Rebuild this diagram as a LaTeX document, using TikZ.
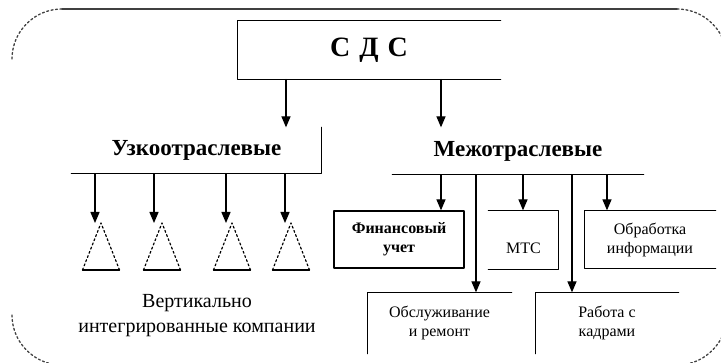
\documentclass[tikz,border=0pt]{standalone}
\usepackage{fontspec}
\setmainfont{Liberation Serif}
\usetikzlibrary{arrows.meta, calc}

\begin{document}
\begin{tikzpicture}[line cap=round,line join=round,>={Triangle[width=9pt,length=11pt]},x=1pt,y=-1pt, line width=1.3pt,
  frame/.style={color=black!75, line width=1.5pt},
  corner/.style={frame, line width=1.3pt, dash pattern=on 2pt off 2.5pt},
  tridash/.style={line width=1.2pt, dash pattern=on 2pt off 2.5pt},
  head/.style={inner sep=0pt, font=\fontsize{23}{26}\selectfont\bfseries},
  blk/.style={inner sep=0pt, align=center, font=\fontsize{16}{19}\selectfont}]
\useasboundingbox (0,0) rectangle (721,363);
\clip (0,0) rectangle (721,363);
% outer frame
\draw[frame] (62,9) -- (677,9);
\draw[corner] (12,59) arc[start angle=180,end angle=270,radius=50];
\draw[corner] (677,9) arc[start angle=270,end angle=360,radius=50];
\draw[corner] (12,315) arc[start angle=180,end angle=90,radius=50];
\draw[corner] (727,315) arc[start angle=0,end angle=90,radius=50];
% top
\node[head, minimum width=262pt, minimum height=58pt, font=\fontsize{28}{30}\selectfont\bfseries] (sds) at (369,50) {С\hspace{9pt}Д\hspace{9pt}С};
\draw (sds.north east) -- (sds.north west) -- (sds.south west) -- (sds.south east);
\node[head, minimum width=249pt, minimum height=45pt] (uzk) at (196.5,150.5) {Узкоотраслевые};
\draw (uzk.north east) -- (uzk.south east) -- (uzk.south west);
\node[head, minimum width=250pt, minimum height=46pt] (mezh) at (518,151) {Межотраслевые};
\draw (mezh.south west) -- (mezh.south east);
\coordinate (c1) at (286,0);
\coordinate (c2) at (441,0);
\draw[->] (sds.south -| c1) -- (uzk.north -| c1);
\draw[->] (sds.south -| c2) -- (mezh.north -| c2);
% vertically integrated
\foreach \a/\t in {95/101, 154/162, 226/232, 285/291}{
  \coordinate (tri\a) at (\t,223);
  \coordinate (top\a) at (\a,0);
  \draw[->] (uzk.south -| top\a) -- (top\a |- tri\a);
  \draw[tridash] ($(tri\a)+(-18.5,47)$) -- (tri\a) -- ($(tri\a)+(18.5,47)$);
  \draw ($(tri\a)+(-18.5,47)$) -- ($(tri\a)+(18.5,47)$);
}
\node[align=center, inner sep=0pt, font=\fontsize{20}{25}\selectfont] (vik) at (197,316) {Вертикально\\интегрированные компании};
% cross-industry
\node[blk, draw, minimum width=130pt, minimum height=57pt, font=\fontsize{16}{19}\selectfont\bfseries] (fin) at (399,239.5) {Финансовый\\учет};
\node[blk, minimum width=69pt, minimum height=58pt] (mts) at (523.5,240) {\raisebox{-13.5pt}[0pt][0pt]{МТС}};
\draw (mts.north west) -- (mts.north east) -- (mts.south east) -- (mts.south west);
\node[blk, minimum width=130pt, minimum height=57pt] (obr) at (650,239.5) {Обработка\\информации};
\draw (obr.north east) -- (obr.north west) -- (obr.south west) -- (obr.south east);
\node[blk, minimum width=143pt, minimum height=60pt] (obs) at (439.5,323) {Обслуживание\\и ремонт};
\draw (obs.north east) -- (obs.north west) -- (obs.south west);
\node[blk, minimum width=142pt, minimum height=60pt] (rab) at (607,323) {Работа с\\кадрами};
\draw (rab.north east) -- (rab.north west) -- (rab.south west);
\coordinate (d1) at (476,0);
\coordinate (d2) at (523,0);
\coordinate (d3) at (572,0);
\coordinate (d4) at (607,0);
\draw[->] (mezh.south -| c2) -- (fin.north -| c2);
\draw[->] (mezh.south -| d1) -- (obs.north -| d1);
\draw[->] (mezh.south -| d2) -- (mts.north -| d2);
\draw[->] (mezh.south -| d3) -- (rab.north -| d3);
\draw[->] (mezh.south -| d4) -- (obr.north -| d4);
\end{tikzpicture}
\end{document}
